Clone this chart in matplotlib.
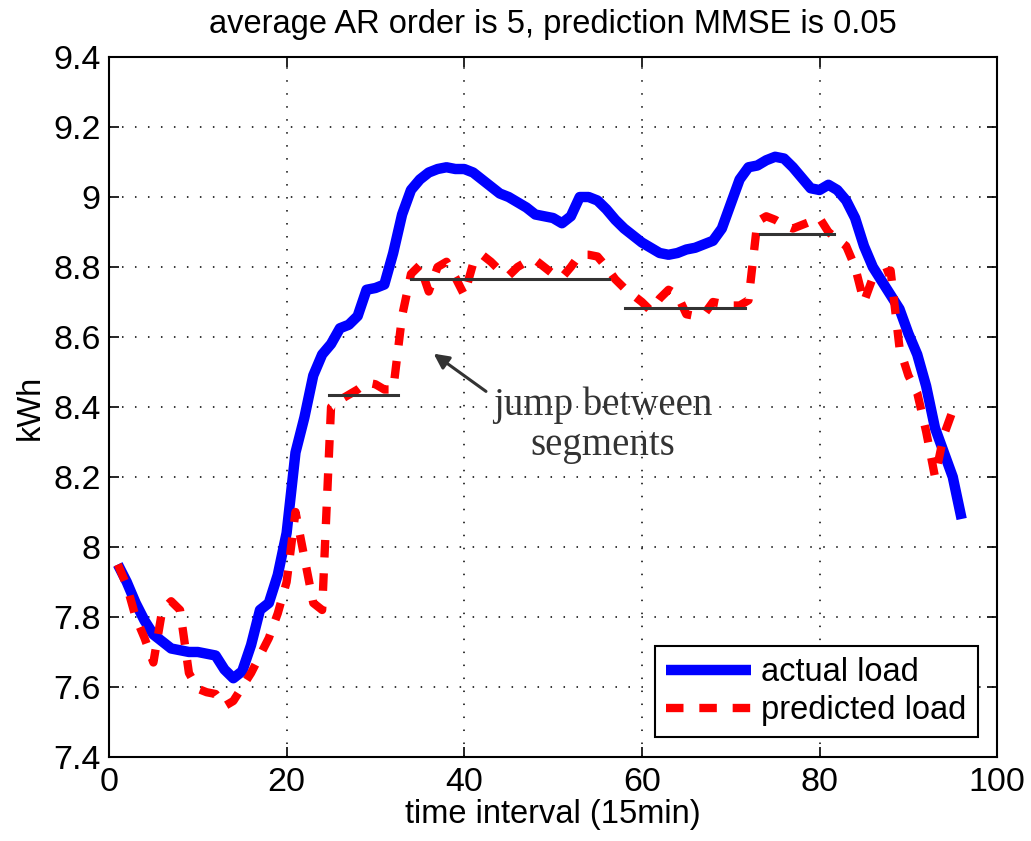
import numpy as np
import matplotlib
matplotlib.use("Agg")
import matplotlib.pyplot as plt

plt.rcParams["font.family"] = ["Liberation Sans", "DejaVu Sans"]

# time index (15 min intervals)
t = np.arange(1, 97)

# actual load, kWh
actual = [
    7.95, 7.90, 7.84, 7.79, 7.75, 7.73, 7.71, 7.705, 7.70, 7.70,
    7.695, 7.69, 7.65, 7.625, 7.645, 7.72, 7.82, 7.84, 7.92, 8.04,
    8.27, 8.37, 8.49, 8.55, 8.58, 8.625, 8.635, 8.66, 8.735, 8.74,
    8.75, 8.84, 8.95, 9.02, 9.05, 9.07, 9.08, 9.085, 9.08, 9.08,
    9.07, 9.05, 9.03, 9.01, 9.00, 8.985, 8.97, 8.95, 8.945, 8.94,
    8.925, 8.945, 9.00, 9.00, 8.99, 8.965, 8.935, 8.91, 8.89, 8.87,
    8.855, 8.84, 8.835, 8.84, 8.85, 8.855, 8.865, 8.875, 8.91, 8.98,
    9.05, 9.085, 9.09, 9.105, 9.115, 9.11, 9.085, 9.055, 9.025, 9.02,
    9.035, 9.02, 8.99, 8.94, 8.86, 8.80, 8.76, 8.72, 8.68, 8.61,
    8.55, 8.46, 8.34, 8.27, 8.20, 8.08,
]

# predicted load, kWh
predicted = [
    7.95, 7.89, 7.80, 7.74, 7.67, 7.82, 7.845, 7.82, 7.64, 7.595,
    7.585, 7.58, 7.545, 7.56, 7.60, 7.64, 7.69, 7.74, 7.81, 7.90,
    8.10, 7.97, 7.84, 7.82, 8.40, 8.42, 8.435, 8.45, 8.47, 8.465,
    8.45, 8.45, 8.66, 8.78, 8.805, 8.73, 8.80, 8.815, 8.77, 8.72,
    8.81, 8.835, 8.815, 8.79, 8.775, 8.80, 8.815, 8.82, 8.80, 8.78,
    8.77, 8.80, 8.835, 8.835, 8.83, 8.80, 8.765, 8.74, 8.72, 8.70,
    8.675, 8.71, 8.735, 8.72, 8.665, 8.66, 8.665, 8.70, 8.695, 8.69,
    8.69, 8.705, 8.93, 8.945, 8.935, 8.92, 8.91, 8.92, 8.93, 8.94,
    8.90, 8.88, 8.86, 8.80, 8.70, 8.77, 8.78, 8.79, 8.57, 8.49,
    8.44, 8.33, 8.20, 8.32, 8.39, 8.41,
]

# segment mean levels
seg_start = [24.8, 34.0, 58.1, 73.3]
seg_end = [32.5, 56.3, 71.6, 81.6]
seg_level = [8.435, 8.767, 8.684, 8.894]

fig = plt.figure(figsize=(10.31, 8.41), dpi=100)
ax = fig.add_axes([0.1057, 0.0999, 0.8615, 0.8323])

ax.plot(t, actual, color="#0000ff", lw=7.5, solid_capstyle="butt",
        label="actual load", zorder=3)
ax.plot(t, predicted, color="#ff0000", lw=6, dashes=(2.1, 1.9),
        dash_capstyle="butt", label="predicted load", zorder=4)
for x0, x1, lv in zip(seg_start, seg_end, seg_level):
    ax.plot([x0, x1], [lv, lv], color="#333333", lw=2.2, zorder=5)

ax.annotate("", xy=(36.3, 8.557), xytext=(42.7, 8.44),
            arrowprops=dict(arrowstyle="-|>,head_length=0.9,head_width=0.45",
                            color="#333333", lw=2.2))
ax.text(55.6, 8.348, "jump between\nsegments", ha="center", va="center",
        fontsize=28, family=["Liberation Serif", "DejaVu Serif"],
        color="#333333", linespacing=1.12)

ax.set_xlim(0, 100)
ax.set_ylim(7.4, 9.4)
ax.set_xticks(np.arange(0, 101, 20))
ax.set_yticks(np.arange(7.4, 9.41, 0.2))
ax.set_yticklabels(["7.4", "7.6", "7.8", "8", "8.2", "8.4", "8.6",
                    "8.8", "9", "9.2", "9.4"])
ax.grid(True, color="black", linestyle=(0, (1, 7.5)), lw=1.1)
ax.tick_params(direction="in", top=True, right=True, length=7, width=1.2,
               labelsize=24.5)
ax.tick_params(axis="x", pad=7)
ax.tick_params(axis="y", pad=6)
for s in ax.spines.values():
    s.set_linewidth(1.5)

ax.set_title("average AR order is 5, prediction MMSE is 0.05",
             fontsize=23.5, pad=17)
ax.set_xlabel("time interval (15min)", fontsize=23.5, labelpad=1)
ax.set_ylabel("kWh", fontsize=23.5, labelpad=5)

leg = ax.legend(loc="lower right", fontsize=23.5, fancybox=False,
                edgecolor="black", framealpha=1, handlelength=2.6,
                handletextpad=0.3, labelspacing=0.2, borderpad=0.35,
                borderaxespad=0.6)
leg.get_frame().set_linewidth(1.5)

fig.savefig("out.png", dpi=100)
